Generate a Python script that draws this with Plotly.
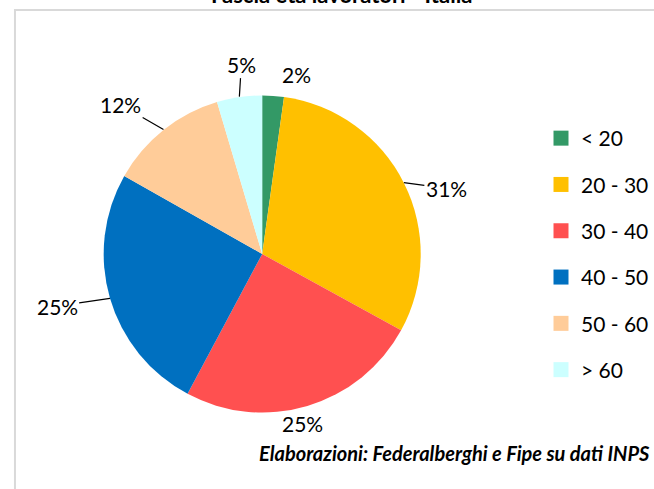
import math
import plotly.graph_objects as go

# age bands of workers (share, %)
fasce = ["< 20", "20 - 30", "30 - 40", "40 - 50", "50 - 60", "> 60"]
quote = [2.2, 30.8, 24.8, 25.4, 12.2, 4.6]
colori = ["#339966", "#FFC000", "#FF5050", "#0070C0", "#FFCC99", "#CCFFFF"]

W, H = 654, 489
FONT = "Lato, Liberation Sans, sans-serif"

# pie geometry in pixels (centre / radius)
cx, cy, r = 263, 254, 159

# label placement style: extra distance from edge, angular nudge, leader line on/off
label_gap = [24, 37, 15, 53, 47, 32]
label_nudge = [7, 7, 3, 2, -5, 2]
leader = [False, True, False, True, True, True]


def px(x, y):
    return x / W, 1 - y / H


fig = go.Figure()

fig.add_trace(go.Pie(
    labels=fasce,
    values=quote,
    sort=False,
    direction="clockwise",
    rotation=0,
    textinfo="none",
    marker=dict(colors=colori, line=dict(width=0)),
    domain=dict(x=[(cx - r) / W, (cx + r) / W],
                y=[1 - (cy + r) / H, 1 - (cy - r) / H]),
    showlegend=False,
    hoverinfo="label+percent",
))

# legend via dummy traces so the item spacing can be opened up
for nome, col in zip(fasce, colori):
    fig.add_trace(go.Scatter(
        x=[None], y=[None], mode="markers", name=nome, legendgroup=nome,
        marker=dict(symbol="square", size=15, color=col),
    ))

# percent labels with leader lines
tot = sum(quote)
cum = 0
annotations = []
for i, v in enumerate(quote):
    mid = (cum + v / 2) / tot * 360
    cum += v
    a = math.radians(mid)
    tx, ty = cx + r * math.sin(a), cy - r * math.cos(a)
    b = math.radians(mid + label_nudge[i])
    d = r + label_gap[i]
    lx, ly = cx + d * math.sin(b), cy - d * math.cos(b)
    x, y = px(tx, ty)
    annotations.append(dict(
        x=x, y=y, xref="paper", yref="paper",
        text="%d%%" % round(v / tot * 100),
        showarrow=True, arrowhead=0, arrowwidth=1.2, standoff=0,
        arrowcolor="black" if leader[i] else "rgba(0,0,0,0)",
        ax=lx - tx, ay=ly - ty,
        font=dict(family=FONT, size=21, color="black"),
    ))

tx, ty = px(343, 10)
annotations.append(dict(
    x=tx, y=ty, xref="paper", yref="paper", xanchor="center", yanchor="bottom",
    text="<b>Fascia età lavoratori - Italia</b>", showarrow=False,
    font=dict(family=FONT, size=22, color="black"),
))
sx, sy = px(654, 453)
annotations.append(dict(
    x=sx, y=sy, xref="paper", yref="paper", xanchor="right", yanchor="middle",
    text="<b><i>Elaborazioni: Federalberghi e Fipe su dati INPS</i></b>", showarrow=False,
    font=dict(family=FONT, size=20, color="black"),
))

bx0, by0 = px(15, 10)
bx1, by1 = px(W + 10, H + 10)

fig.update_layout(
    width=W, height=H,
    margin=dict(l=0, r=0, t=0, b=0),
    paper_bgcolor="white", plot_bgcolor="white",
    xaxis=dict(visible=False), yaxis=dict(visible=False),
    annotations=annotations,
    shapes=[dict(type="rect", xref="paper", yref="paper",
                 x0=bx0, y0=by1, x1=bx1, y1=by0,
                 line=dict(color="#D9D9D9", width=2), layer="below")],
    legend=dict(x=543 / W, y=1 - 118 / H, xanchor="left", yanchor="top",
                font=dict(family=FONT, size=21, color="black"),
                tracegroupgap=16, bgcolor="rgba(0,0,0,0)"),
    font=dict(family=FONT),
)

fig.write_html("out.html", config={"displayModeBar": False},
               post_script="document.body.style.margin='0';document.body.style.overflow='hidden';")
